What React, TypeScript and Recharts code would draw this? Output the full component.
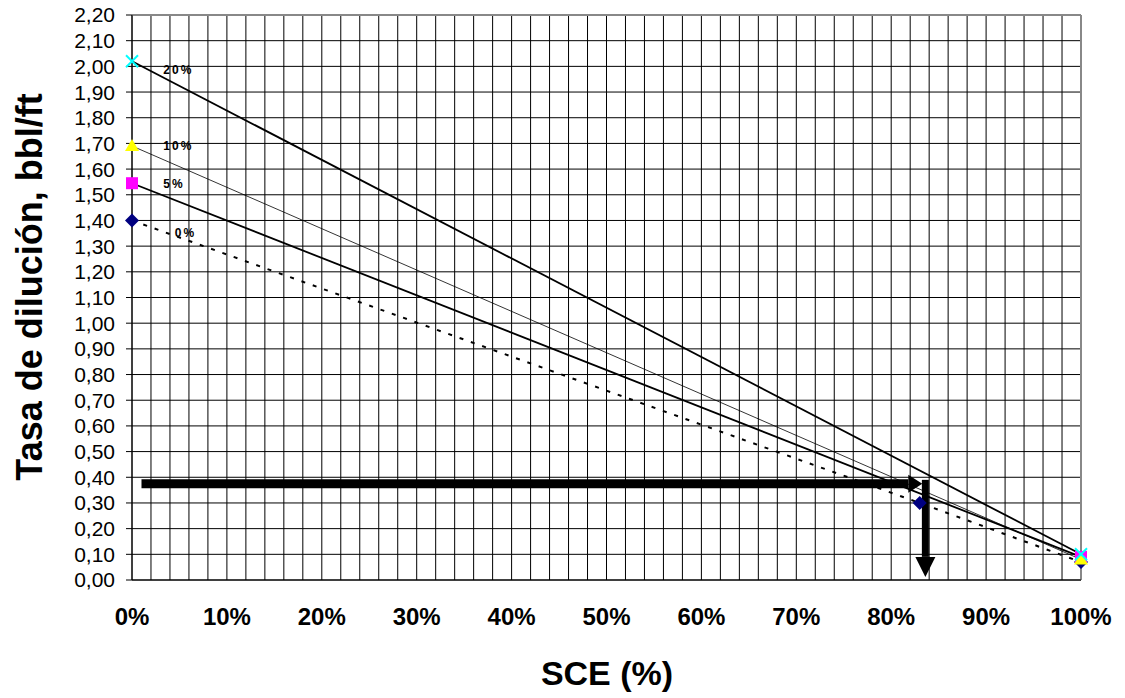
import React from 'react';
import {
  CartesianGrid,
  ComposedChart,
  Line,
  ReferenceLine,
  Scatter,
  XAxis,
  YAxis,
} from 'recharts';

const FONT = '"Liberation Sans", Arial, sans-serif';

// SCE (%) vs tasa de dilución (bbl/ft) para cada % de sólidos
const serie20 = [
  { x: 0, y: 2.02 },
  { x: 100, y: 0.1 },
];
const serie10 = [
  { x: 0, y: 1.69 },
  { x: 100, y: 0.08 },
];
const serie5 = [
  { x: 0, y: 1.545 },
  { x: 100, y: 0.09 },
];
const serie0 = [
  { x: 0, y: 1.4 },
  { x: 83, y: 0.3 },
  { x: 100, y: 0.07 },
];

// flechas de lectura
const flechaH = [
  { x: 1, y: 0.375 },
  { x: 81.8, y: 0.375 },
];
const flechaV = [
  { x: 83.6, y: 0.39 },
  { x: 83.6, y: 0.09 },
];

const etiquetas = [
  { x: 3.3, y: 1.97, text: '20%' },
  { x: 3.3, y: 1.674, text: '10%' },
  { x: 3.3, y: 1.526, text: '5%' },
  { x: 4.5, y: 1.336, text: '0%' },
];

const xTicks = Array.from({ length: 51 }, (_, i) => i * 2);
const yTicks = [
  0, 0.1, 0.2, 0.3, 0.4, 0.5, 0.6, 0.7, 0.8, 0.9, 1.0, 1.1, 1.2, 1.3, 1.4, 1.5, 1.6, 1.7, 1.8,
  1.9, 2.0, 2.1, 2.2,
];

const Diamond = (p: any) => {
  const { cx, cy } = p;
  if (cx == null) return <g />;
  return <polygon points={`${cx},${cy - 7} ${cx + 7},${cy} ${cx},${cy + 7} ${cx - 7},${cy}`} fill="#000080" />;
};
const Square = (p: any) => {
  const { cx, cy } = p;
  if (cx == null) return <g />;
  return <rect x={cx - 6} y={cy - 6} width={12} height={12} fill="#ff00ff" />;
};
const Triangle = (p: any) => {
  const { cx, cy } = p;
  if (cx == null) return <g />;
  return <polygon points={`${cx},${cy - 7} ${cx + 7},${cy + 5} ${cx - 7},${cy + 5}`} fill="#ffff00" />;
};
const Cross = (p: any) => {
  const { cx, cy } = p;
  if (cx == null) return <g />;
  return (
    <g stroke="#00ffff" strokeWidth={2}>
      <line x1={cx - 6} y1={cy - 6} x2={cx + 6} y2={cy + 6} />
      <line x1={cx - 6} y1={cy + 6} x2={cx + 6} y2={cy - 6} />
    </g>
  );
};

const HeadRight = (p: any) => {
  const { cx, cy, index } = p;
  if (index !== flechaH.length - 1) return <g key={index} />;
  return <polygon key={index} points={`${cx},${cy - 9} ${cx + 14},${cy} ${cx},${cy + 9}`} fill="#000" />;
};
const HeadDown = (p: any) => {
  const { cx, cy, index } = p;
  if (index !== flechaV.length - 1) return <g key={index} />;
  return <polygon key={index} points={`${cx - 10},${cy} ${cx + 10},${cy} ${cx},${cy + 20}`} fill="#000" />;
};

const LabelText = (p: any) => (
  <text
    x={p.cx}
    y={p.cy}
    fontFamily={FONT}
    fontWeight="bold"
    fontSize={12}
    letterSpacing={2}
    fill="#000"
  >
    {p.payload.text}
  </text>
);

const XTick = (p: any) => {
  const v = p.payload.value;
  if (v % 10 !== 0) return <g />;
  return (
    <text x={p.x} y={625} textAnchor="middle" fontFamily={FONT} fontWeight="bold" fontSize={24} fill="#000">
      {`${v}%`}
    </text>
  );
};

export default function App() {
  return (
    <div style={{ position: 'absolute', left: 0, top: 0, width: 1125, height: 698, background: '#fff' }}>
      <ComposedChart width={1125} height={698} margin={{ top: 15, right: 44, left: 0, bottom: 0 }}>
        <CartesianGrid stroke="#000" strokeWidth={1} />
        <XAxis
          type="number"
          dataKey="x"
          domain={[0, 100]}
          ticks={xTicks}
          interval={0}
          height={118}
          tickSize={0}
          tickLine={false}
          axisLine={{ stroke: '#000' }}
          tick={<XTick />}
          label={{
            content: () => (
              <text x={607} y={685} textAnchor="middle" fontFamily={FONT} fontWeight="bold" fontSize={34} fill="#000">
                SCE (%)
              </text>
            ),
          }}
        />
        <YAxis
          type="number"
          dataKey="y"
          domain={[0, 2.2]}
          ticks={yTicks}
          interval={0}
          width={132}
          tickSize={6}
          tickMargin={11}
          axisLine={{ stroke: '#000' }}
          tickLine={{ stroke: '#000' }}
          tick={{ fontSize: 21, fill: '#000', fontFamily: FONT }}
          tickFormatter={(v: number) => v.toFixed(2).replace('.', ',')}
          label={{
            content: () => (
              <text
                transform="translate(42,287) rotate(-90)"
                textAnchor="middle"
                fontFamily={FONT}
                fontWeight="bold"
                fontSize={36}
                fill="#000"
              >
                Tasa de dilución, bbl/ft
              </text>
            ),
          }}
        />
        <ReferenceLine y={2.2} stroke="#888" strokeWidth={2} />
        <ReferenceLine x={100} stroke="#888" strokeWidth={2} />

        <Line data={flechaH} dataKey="y" stroke="#000" strokeWidth={9} dot={<HeadRight />} isAnimationActive={false} />
        <Line data={flechaV} dataKey="y" stroke="#000" strokeWidth={7} dot={<HeadDown />} isAnimationActive={false} />

        <Line data={serie0} dataKey="y" stroke="#000" strokeWidth={2} strokeDasharray="4 8" dot={<Diamond />} isAnimationActive={false} />
        <Line data={serie5} dataKey="y" stroke="#000" strokeWidth={1.8} dot={<Square />} isAnimationActive={false} />
        <Line data={serie10} dataKey="y" stroke="#000" strokeWidth={0.8} dot={<Triangle />} isAnimationActive={false} />
        <Line data={serie20} dataKey="y" stroke="#000" strokeWidth={1.8} dot={<Cross />} isAnimationActive={false} />

        <Scatter data={etiquetas} dataKey="y" shape={<LabelText />} isAnimationActive={false} />
      </ComposedChart>
    </div>
  );
}
